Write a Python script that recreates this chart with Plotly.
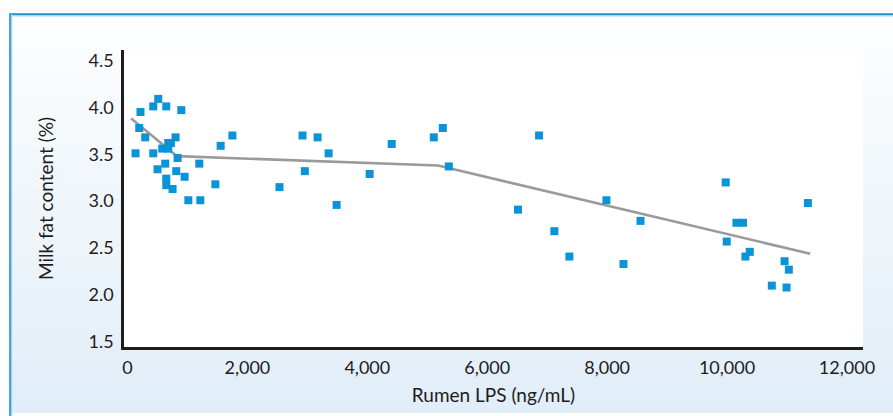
import plotly.graph_objects as go

# Data
lps = [134, 196, 217, 296, 430, 513, 647, 898, 430, 802, 680, 724, 580, 680, 836,
       501, 630, 814, 953, 647, 647, 752, 1015, 1215, 1198, 1466, 1554, 1750,
       2920, 3171, 3355, 2958, 2535, 3488, 4040, 4407, 5109, 5260, 5360, 6865, 6514,
       7989, 7120, 7371, 8273, 8557, 9978, 9995, 10157, 10267, 10379, 10307,
       10960, 11031, 10747, 10993, 11349]
fat = [3.51, 3.78, 3.95, 3.68, 4.01, 4.09, 4.01, 3.97, 3.51, 3.68, 3.62, 3.62, 3.56, 3.56, 3.46,
       3.34, 3.40, 3.32, 3.26, 3.24, 3.17, 3.13, 3.01, 3.01, 3.40, 3.18, 3.59, 3.70,
       3.70, 3.68, 3.51, 3.32, 3.15, 2.96, 3.29, 3.61, 3.68, 3.78, 3.37, 3.70, 2.91,
       3.01, 2.68, 2.41, 2.33, 2.79, 3.20, 2.57, 2.77, 2.77, 2.46, 2.41,
       2.36, 2.27, 2.10, 2.08, 2.98]

fit_x = [62, 824, 5181, 11387]
fit_y = [3.88, 3.48, 3.38, 2.44]

x_tickvals = [0, 2000, 4000, 6000, 8000, 10000, 12000]
x_ticktext = ["0", "2,000", "4,000", "6,000", "8,000", "10,000", "12,000"]
y_tickvals = [1.5, 2.0, 2.5, 3.0, 3.5, 4.0, 4.5]
y_ticktext = ["1.5", "2.0", "2.5", "3.0", "3.5", "4.0", "4.5"]

FONT = "Lato"
TXT = "#1e1c1d"

fig = go.Figure()
fig.add_trace(go.Scatter(x=fit_x, y=fit_y, mode="lines",
                         line=dict(color="#9a9a9c", width=2.6),
                         hoverinfo="skip", showlegend=False))
fig.add_trace(go.Scatter(x=lps, y=fat, mode="markers",
                         marker=dict(symbol="square", size=8, color="#0a93d6",
                                     line=dict(width=0)),
                         showlegend=False))

# Background gradient (decorative) in paper coordinates
shapes = []
top_px, bot_px = 14, 416
n = 30
def py2paper(py):
    return (350 - py) / 300.0
def px2paper(px):
    return (px - 124) / 739.0
c0 = (253, 254, 254)
c1 = (225, 237, 248)
for i in range(n):
    a = top_px + (bot_px - top_px) * i / n
    b = top_px + (bot_px - top_px) * (i + 1) / n
    t = (i + 0.5) / n
    col = tuple(int(round(c0[k] + (c1[k] - c0[k]) * t)) for k in range(3))
    shapes.append(dict(type="rect", xref="paper", yref="paper", layer="below",
                       x0=px2paper(10), x1=px2paper(900), y0=py2paper(b + 0.5), y1=py2paper(a),
                       fillcolor="rgb(%d,%d,%d)" % col, line=dict(width=0)))
# white plot area
shapes.append(dict(type="rect", xref="paper", yref="paper", layer="below",
                   x0=0, x1=1, y0=0, y1=1, fillcolor="white", line=dict(width=0)))
# frame lines
shapes.append(dict(type="line", xref="paper", yref="paper", layer="above",
                   x0=px2paper(10), x1=px2paper(900), y0=py2paper(15.5), y1=py2paper(15.5),
                   line=dict(color="#a6d5f2", width=1.5)))
shapes.append(dict(type="line", xref="paper", yref="paper", layer="above",
                   x0=px2paper(10), x1=px2paper(900), y0=py2paper(13.8), y1=py2paper(13.8),
                   line=dict(color="#1f8fcf", width=1.6)))
shapes.append(dict(type="line", xref="paper", yref="paper", layer="above",
                   x0=px2paper(11.5), x1=px2paper(11.5), y0=py2paper(14), y1=py2paper(420),
                   line=dict(color="#a6d5f2", width=1.5)))
shapes.append(dict(type="line", xref="paper", yref="paper", layer="above",
                   x0=px2paper(10), x1=px2paper(10), y0=py2paper(13), y1=py2paper(420),
                   line=dict(color="#1f8fcf", width=1.6)))

fig.update_layout(
    width=893, height=416,
    margin=dict(l=124, r=30, t=50, b=66),
    paper_bgcolor="white", plot_bgcolor="rgba(0,0,0,0)",
    font=dict(family=FONT, color=TXT, size=18),
    shapes=shapes,
    xaxis=dict(range=[-58, 12268], tickvals=x_tickvals, ticktext=x_ticktext,
               showgrid=False, zeroline=False, showline=True, linecolor=TXT, linewidth=2.5,
               ticks="outside", ticklen=3, tickcolor="rgba(0,0,0,0)",
               tickfont=dict(family=FONT, size=18, color=TXT),
               title=dict(text="Rumen LPS (ng/mL)", font=dict(family=FONT, size=19, color=TXT),
                          standoff=12)),
    yaxis=dict(range=[1.446, 4.611], tickvals=y_tickvals, ticktext=y_ticktext,
               showgrid=False, zeroline=False, showline=True, linecolor=TXT, linewidth=2.5,
               ticks="outside", ticklen=4, tickcolor="rgba(0,0,0,0)",
               tickfont=dict(family=FONT, size=18, color=TXT),
               title=dict(text="Milk fat content (%)", font=dict(family=FONT, size=19, color=TXT),
                          standoff=30)),
)

fig.write_html("out.html", config={"displayModeBar": False},
               post_script="document.body.style.margin='0';document.body.style.overflow='hidden';")
